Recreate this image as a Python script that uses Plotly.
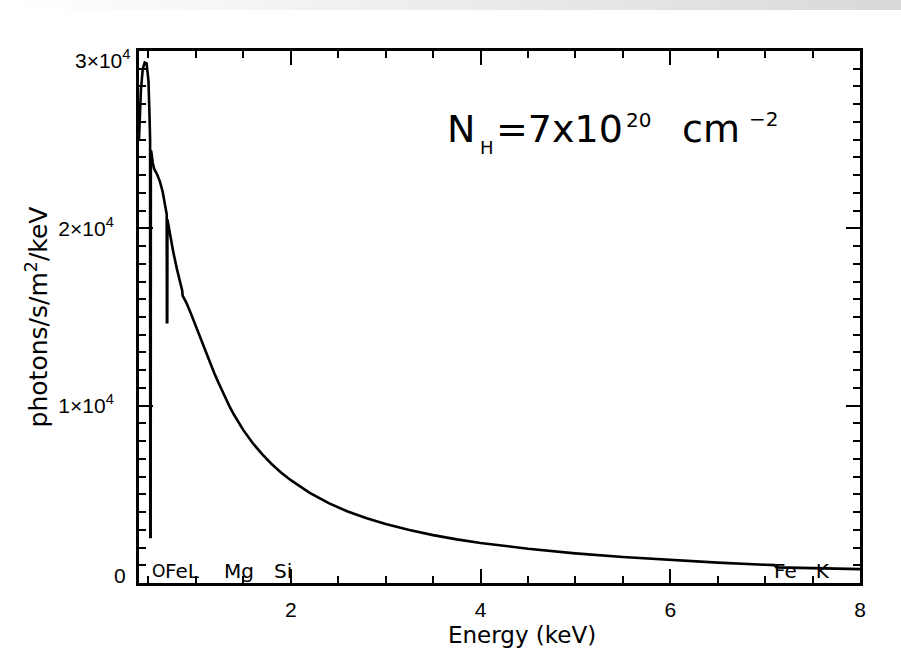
import plotly.graph_objects as go

# ---- data ----
energy_kev = [0.40, 0.42, 0.44, 0.46, 0.48, 0.50, 0.51, 0.517, 0.519, 0.523, 0.525,
              0.53, 0.545, 0.56, 0.59, 0.62, 0.65, 0.675, 0.692, 0.694, 0.698, 0.70,
              0.73, 0.76, 0.80, 0.84, 0.855, 0.86, 0.90, 0.95, 1.00, 1.05, 1.10,
              1.15, 1.20, 1.25, 1.30, 1.35, 1.40, 1.50, 1.60, 1.70, 1.80, 1.90, 2.00,
              2.20, 2.40, 2.60, 2.80, 3.00, 3.25, 3.50, 3.75, 4.00, 4.50, 5.00,
              5.50, 6.00, 6.50, 7.00, 7.10, 7.12, 7.50, 8.00]
flux = [25000, 27800, 29000, 29350, 29300, 28300, 26500, 25000, 2600, 2600, 24400,
        24300, 23700, 23350, 23050, 22650, 22050, 21350, 20800, 14700, 14700, 20500,
        19500, 18700, 17700, 16800, 16500, 16200, 15800, 15150, 14450, 13750, 13050,
        12400, 11750, 11150, 10550, 10000, 9500, 8620, 7880, 7250, 6700, 6220, 5800,
        5080, 4500, 4030, 3650, 3330, 2990, 2700, 2460, 2260, 1930, 1670,
        1465, 1300, 1150, 1030, 1010, 880, 830, 780]

edge_labels = ["O", "FeL", "Mg", "Si", "Fe&nbsp;&nbsp;&nbsp;K"]
edge_label_energy = [0.525, 0.667, 1.29, 1.815, 7.08]
edge_label_size = [17, 20, 20, 20, 20]

x_range = [0.4, 8.0]
y_range = [0, 30000]
y_tickvals = [0, 10000, 20000, 30000]
y_ticktext = ["", "1×10<sup>4</sup>", "2×10<sup>4</sup>", ""]
x_tickvals = [2, 4, 6, 8]
x_ticktext = ["2", "4", "6", "8"]

# ---- layout constants (pixels) ----
W, H = 901, 666
ML, MR, MT, MB = 139, 41, 51, 83
PW, PH = W - ML - MR, H - MT - MB
FONT = "Liberation Sans, Arial, Helvetica, sans-serif"
WIDE = "DejaVu Sans, Verdana, sans-serif"


def px_x(px):
    return (px - ML) / PW


def px_y(py):
    return (H - MB - py) / PH


fig = go.Figure()
fig.add_trace(go.Scatter(x=energy_kev, y=flux, mode="lines",
                         line=dict(color="black", width=2.6),
                         hoverinfo="skip", showlegend=False))

axis_common = dict(showline=True, linecolor="black", linewidth=3, mirror="allticks",
                   ticks="inside", tickcolor="black", tickwidth=2, ticklen=14,
                   showgrid=False, zeroline=False,
                   tickfont=dict(family=FONT, size=21, color="black"))

fig.update_xaxes(range=x_range, tickmode="array", tickvals=x_tickvals, ticktext=x_ticktext,
                 minor=dict(dtick=0.5, tick0=0, ticks="inside", ticklen=7, tickwidth=2,
                            tickcolor="black", showgrid=False),
                 ticklabelstandoff=6,
                 **axis_common)
fig.update_yaxes(range=y_range, tickmode="array", tickvals=y_tickvals, ticktext=y_ticktext,
                 minor=dict(dtick=1000, tick0=0, ticks="inside", ticklen=7, tickwidth=2,
                            tickcolor="black", showgrid=False),
                 title=dict(text="photons/s/m<sup>2</sup>/keV",
                            font=dict(family=WIDE, size=25, color="black"), standoff=4),
                 ticklabelstandoff=18,
                 **axis_common)

annotations = []
# x-axis title (placed as in the reference, slightly right of centre)
annotations.append(dict(text="Energy (keV)", xref="paper", yref="paper",
                        x=px_x(522), y=px_y(635), xanchor="center", yanchor="middle",
                        showarrow=False, font=dict(family=WIDE, size=23, color="black")))
# end labels of the y axis are pulled inside the axis extent, as in the reference
annotations.append(dict(text="0", xref="paper", yref="y", x=px_x(128), y=y_range[0], yshift=8,
                        xanchor="right", yanchor="middle", showarrow=False,
                        font=dict(family=FONT, size=21, color="black")))
annotations.append(dict(text="3×10<sup>4</sup>", xref="paper", yref="y", x=px_x(132),
                        y=y_range[1], yshift=-8, xanchor="right", yanchor="middle",
                        showarrow=False, font=dict(family=FONT, size=21, color="black")))
for lab, e, fs in zip(edge_labels, edge_label_energy, edge_label_size):
    annotations.append(dict(text=lab, xref="x", yref="paper", x=e, y=px_y(571),
                            xanchor="left", yanchor="middle", showarrow=False, borderpad=0,
                            font=dict(family=WIDE, size=fs, color="black")))

# N_H = 7x10^20 cm^-2 label, built from pieces to match the small sub/superscripts
nh_pieces = [("N", 445, 129, 38), ("H", 478, 148, 18), ("=7x10", 494, 129, 38),
             ("20", 624, 120, 20), ("cm", 680, 129, 38), ("−2", 747, 119, 20)]
for txt, px0, pyc, fs in nh_pieces:
    annotations.append(dict(text=txt, xref="paper", yref="paper", x=px_x(px0), y=px_y(pyc),
                            xanchor="left", yanchor="middle", showarrow=False,
                            font=dict(family=WIDE, size=fs, color="black")))

# light grey gradient band at the top of the page
shapes = []
nseg = 40
for i in range(nseg):
    t = i / (nseg - 1)
    c = int(round(255 - 38 * t))
    shapes.append(dict(type="rect", xref="paper", yref="paper", layer="below",
                       x0=px_x(i * W / nseg), x1=px_x((i + 1) * W / nseg + 1),
                       y0=px_y(10), y1=px_y(0),
                       fillcolor=f"rgb({c},{c},{c})", line=dict(width=0)))

fig.update_layout(width=W, height=H, margin=dict(l=ML, r=MR, t=MT, b=MB, autoexpand=False),
                  paper_bgcolor="white", plot_bgcolor="white",
                  annotations=annotations, shapes=shapes,
                  font=dict(family=FONT, color="black"))

fig.write_html("out.html", config={"displayModeBar": False},
               post_script="document.body.style.margin='0px';")
